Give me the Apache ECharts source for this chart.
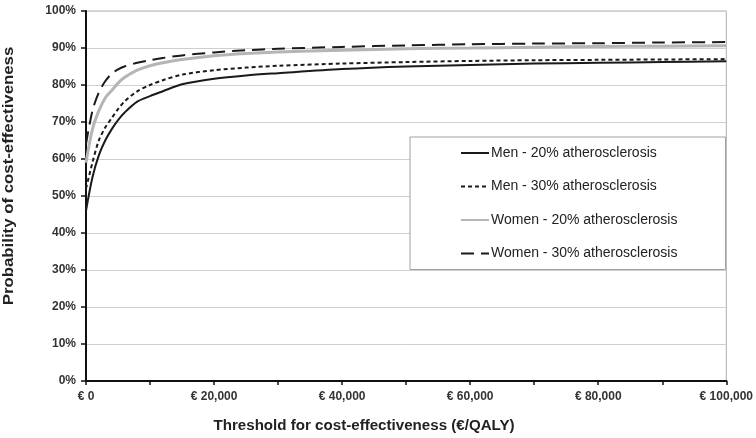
<!DOCTYPE html>
<html>
<head>
<meta charset="utf-8">
<script src="https://cdn.jsdelivr.net/npm/echarts@6/dist/echarts.min.js"></script>
<style>
html,body{margin:0;padding:0;background:#fff;}
#c{width:756px;height:438px;}
</style>
</head>
<body>
<div id="c"></div>
<script>
const thresholds = [0,1000,2000,3000,4000,5000,6000,8000,10000,12000,15000,20000,25000,30000,40000,50000,60000,70000,80000,90000,100000];
const men20   = [46,55,61,65,68,70.5,72.5,75.5,77,78.3,80.2,81.7,82.6,83.2,84.3,85,85.4,85.8,86,86.2,86.4];
const men30   = [52,59,65,68.5,71,73.5,75.5,78.3,80,81.3,82.8,84,84.7,85.2,85.8,86.2,86.5,86.7,86.8,86.9,87];
const women20 = [59,68,73,76.5,78.5,80.5,82,84,85.2,86,86.9,87.9,88.5,88.9,89.4,89.8,90,90.2,90.4,90.5,90.6];
const women30 = [64,73,78,81,83,84.2,85,86,86.7,87.3,88,88.8,89.4,89.8,90.3,90.7,91,91.2,91.3,91.5,91.6];
const seriesNames = ['Men - 20% atherosclerosis','Men - 30% atherosclerosis','Women - 20% atherosclerosis','Women - 30% atherosclerosis'];
const xTitle = 'Threshold for cost-effectiveness (€/QALY)';
const yTitle = 'Probability of cost-effectiveness';

const pair = arr => thresholds.map((t,i)=>[t,arr[i]]);
const chart = echarts.init(document.getElementById('c'), null, {renderer:'canvas'});
const font = 'Arial, "Liberation Sans", sans-serif';
chart.setOption({
  animation:false,
  backgroundColor:'#fff',
  grid:{left:86,right:29,top:11,bottom:57,show:true,borderColor:'#b0b0b0',borderWidth:1},
  xAxis:{type:'value',min:0,max:100000,interval:10000,
    axisLine:{lineStyle:{color:'#111',width:2}},
    axisTick:{show:true,length:4,inside:false,lineStyle:{color:'#111',width:1.5}},
    splitLine:{show:false},
    axisLabel:{color:'#333',fontFamily:font,fontSize:12,fontWeight:'bold',margin:10,
      formatter:v=> (v%20000===0) ? '€ '+v.toLocaleString('en-US') : ''}
  },
  yAxis:{type:'value',min:0,max:100,interval:10,
    axisLine:{show:true,lineStyle:{color:'#111',width:2}},
    axisTick:{show:true,length:5,lineStyle:{color:'#111',width:1.5}},
    splitLine:{lineStyle:{color:'#cfcfcf',width:1}},
    axisLabel:{color:'#333',fontFamily:font,fontSize:12,fontWeight:'bold',margin:10,formatter:v=>v+'%'}
  },
  legend:{orient:'vertical',left:410,top:137,
    backgroundColor:'#fff',borderColor:'#a0a0a0',borderWidth:1,
    padding:[9,48,9,50],itemGap:19.5,itemWidth:28,itemHeight:12,
    itemStyle:{opacity:0},
    textStyle:{fontFamily:font,fontSize:14,color:'#222',padding:[0,0,0,-3]},
    data:seriesNames},
  graphic:[
    {type:'text',position:[364,426],scaleX:1.08,scaleY:1,
      style:{text:xTitle,fill:'#222',font:'bold 14px '+font,textAlign:'center',textVerticalAlign:'middle'}},
    {type:'text',rotation:Math.PI/2,position:[2,176],scaleX:1.2,scaleY:1,
      style:{text:yTitle,fill:'#222',font:'bold 14px '+font,textAlign:'center',textVerticalAlign:'top'}}
  ],
  series:[
    {name:seriesNames[0],type:'line',data:pair(men20),symbol:'none',smooth:0.3,
      lineStyle:{color:'#1a1a1a',width:2,type:'solid'},itemStyle:{color:'#1a1a1a'}},
    {name:seriesNames[1],type:'line',data:pair(men30),symbol:'none',smooth:0.3,
      lineStyle:{color:'#1a1a1a',width:2,type:[4,3]},itemStyle:{color:'#1a1a1a'}},
    {name:seriesNames[2],type:'line',data:pair(women20),symbol:'none',smooth:0.3,
      lineStyle:{color:'#b5b5b5',width:3,type:'solid'},itemStyle:{color:'#b5b5b5'}},
    {name:seriesNames[3],type:'line',data:pair(women30),symbol:'none',smooth:0.3,
      lineStyle:{color:'#1a1a1a',width:2,type:[13,7]},itemStyle:{color:'#1a1a1a'}}
  ]
});
</script>
</body>
</html>
